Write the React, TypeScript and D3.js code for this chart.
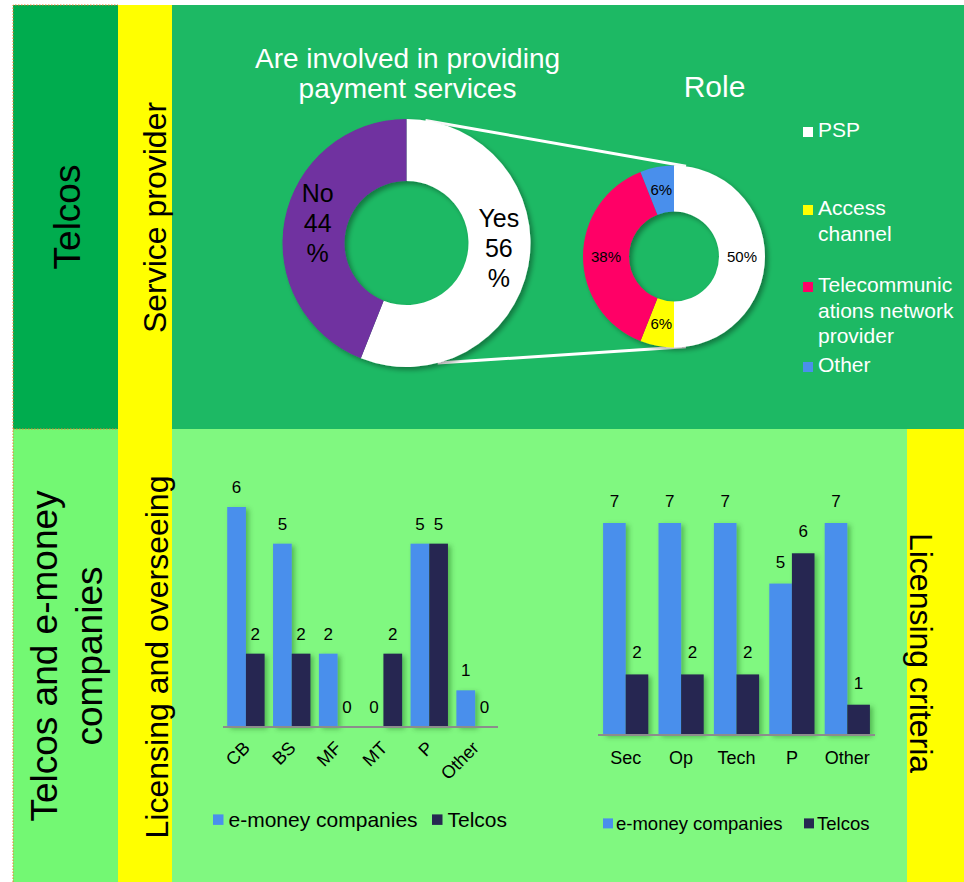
import React from "react";
import * as d3 from "d3";

const involvedLabels = ["Yes", "No"];
const involvedValues = [56, 44];

const roleLabels = ["PSP", "Access channel", "Telecommunications network provider", "Other"];
const roleLegendLines = [["PSP"], ["Access", "channel"], ["Telecommunic", "ations network", "provider"], ["Other"]];
const roleValues = [50, 6, 38, 6];

const seriesNames = ["e-money companies", "Telcos"];

const licensingCategories = ["CB", "BS", "MF", "MT", "P", "Other"];
const licensingEmoney = [6, 5, 2, 0, 5, 1];
const licensingTelcos = [2, 2, 0, 2, 5, 0];

const criteriaCategories = ["Sec", "Op", "Tech", "P", "Other"];
const criteriaEmoney = [7, 7, 7, 5, 7];
const criteriaTelcos = [2, 2, 2, 6, 1];

const FONT = "'Liberation Sans', Arial, Helvetica, sans-serif";
const C = {
  topCol: "#00AC4E",
  topMain: "#1DB964",
  yellow: "#FFFF00",
  botCol: "#73F873",
  botMain: "#80F880",
  white: "#FFFFFF",
  purple: "#7030A0",
  red: "#FF0066",
  blue: "#4A8FEC",
  navy: "#262851",
  axis: "#8C8C8C",
  orange: "#ED7D31",
};

function Donut({ cx, cy, outer, inner, values, colors, labels, fontSize, lineH, shifts }: any) {
  const pie = d3.pie<number>().sort(null).value((d) => d);
  const arcs = pie(values);
  const arc = d3.arc<any>().innerRadius(inner).outerRadius(outer);
  return (
    <g transform={`translate(${cx},${cy})`}>
      <g filter="url(#shadow)">
        {arcs.map((a, i) => (
          <path key={i} d={arc(a) || ""} fill={colors[i]} />
        ))}
      </g>
      {arcs.map((a, i) => {
        const [cx0, cy0] = arc.centroid(a);
        const sh = shifts ? shifts[i] : [0, 0];
        const x = cx0 + sh[0];
        const y = cy0 + sh[1];
        const lines: string[] = labels[i];
        const n = lines.length;
        return (
          <text key={"t" + i} x={x} y={y} textAnchor="middle" fontSize={fontSize} fontFamily={FONT} fill="#000">
            {lines.map((l, j) => (
              <tspan key={j} x={x} y={y + (j - (n - 1) / 2) * lineH + fontSize * 0.36}>
                {l}
              </tspan>
            ))}
          </text>
        );
      })}
    </g>
  );
}

function BarChart({ categories, a, b, x0, x1, baseY, topY, maxV, labelStyle }: any) {
  const x = d3.scaleBand<string>().domain(categories).range([x0, x1]).paddingInner(0).paddingOuter(0);
  const xs = d3.scaleBand<string>().domain(seriesNames).range([0, x.bandwidth()]).paddingInner(0).paddingOuter(0.225);
  const y = d3.scaleLinear().domain([0, maxV]).range([baseY, topY]);
  const series = [a, b];
  const colors = [C.blue, C.navy];
  return (
    <g>
      <g filter="url(#barshadow)">
        {categories.map((c: string, i: number) =>
          series.map((s: number[], k: number) => (
            <rect
              key={c + k}
              x={(x(c) || 0) + (xs(seriesNames[k]) || 0)}
              y={y(s[i])}
              width={xs.bandwidth()}
              height={baseY - y(s[i])}
              fill={colors[k]}
            />
          ))
        )}
      </g>
      <line x1={x0} x2={x1} y1={baseY} y2={baseY} stroke={C.axis} strokeWidth={2} />
      {categories.map((c: string, i: number) =>
        series.map((s: number[], k: number) => (
          <text
            key={"v" + c + k}
            x={(x(c) || 0) + (xs(seriesNames[k]) || 0) + xs.bandwidth() / 2}
            y={y(s[i]) - labelStyle.valueGap}
            textAnchor="middle"
            fontSize={17}
            fontFamily={FONT}
            fill="#000"
          >
            {s[i]}
          </text>
        ))
      )}
      {categories.map((c: string) => {
        const cxp = (x(c) || 0) + x.bandwidth() / 2;
        if (labelStyle.rotate) {
          return (
            <text
              key={"c" + c}
              transform={`translate(${cxp + 5},${baseY + 22}) rotate(-45)`}
              textAnchor="end"
              fontSize={18}
              fontFamily={FONT}
              fill="#000"
            >
              {c}
            </text>
          );
        }
        return (
          <text key={"c" + c} x={cxp} y={baseY + 29} textAnchor="middle" fontSize={18} fontFamily={FONT} fill="#000">
            {c}
          </text>
        );
      })}
    </g>
  );
}

function Legend({ x, y, gap, size, font }: any) {
  const colors = [C.blue, C.navy];
  return (
    <g>
      {seriesNames.map((n, i) => (
        <g key={n}>
          <rect x={x[i]} y={y - font * 0.6} width={size} height={size} fill={colors[i]} />
          <text x={x[i] + size + gap} y={y} fontSize={font} fontFamily={FONT} fill="#000">
            {n}
          </text>
        </g>
      ))}
    </g>
  );
}

export default function App() {
  const W = 964;
  const H = 882;
  const left = 13;
  const col1 = 118;
  const col2 = 172;
  const top = 5;
  const mid = 429;
  const rightYellow = 907;

  const bigC = { x: 406.5, y: 243, r: 124, ri: 62 };
  const smallC = { x: 674, y: 256.5, r: 91, ri: 45 };
  const pt = (c: any, deg: number) => {
    const t = (deg * Math.PI) / 180;
    return [c.x + c.r * Math.sin(t), c.y - c.r * Math.cos(t)];
  };
  const t1 = pt(bigC, 8.8);
  const t2 = pt(smallC, 7.6);
  const b1 = pt(bigC, 165.5);
  const b2 = pt(smallC, 172.5);

  const roleColors = [C.white, C.yellow, C.red, C.blue];
  const roleLegendY = [137, 215, 292, 372];

  return (
    <svg width={W} height={H} style={{ position: "absolute", left: 0, top: 0 }} xmlns="http://www.w3.org/2000/svg">
      <defs>
        <filter id="shadow" x="-20%" y="-20%" width="150%" height="150%">
          <feDropShadow dx="3" dy="3" stdDeviation="2.5" floodColor="#000" floodOpacity="0.35" />
        </filter>
        <filter id="barshadow" x="-20%" y="-20%" width="150%" height="150%">
          <feDropShadow dx="3" dy="2" stdDeviation="2.5" floodColor="#004000" floodOpacity="0.35" />
        </filter>
      </defs>
      <rect x={0} y={0} width={W} height={H} fill="#fff" />
      <rect x={left} y={top} width={col1 - left} height={mid - top} fill={C.topCol} />
      <rect x={col1} y={top} width={col2 - col1} height={mid - top} fill={C.yellow} />
      <rect x={col2} y={top} width={W - col2} height={mid - top} fill={C.topMain} />
      <rect x={left} y={mid} width={col1 - left} height={H - mid} fill={C.botCol} />
      <rect x={col1} y={mid} width={col2 - col1} height={H - mid} fill={C.yellow} />
      <rect x={col2} y={mid} width={rightYellow - col2} height={H - mid} fill={C.botMain} />
      <rect x={rightYellow} y={mid} width={W - rightYellow} height={H - mid} fill={C.yellow} />
      <path
        d={`M${left},${H} L${left},${top} L${col1},${top} M${left},${mid} L${col1},${mid}`}
        fill="none"
        stroke={C.orange}
        strokeWidth={1}
        strokeDasharray="1.5 1.5"
      />

      <text transform={`translate(80,217) rotate(-90)`} textAnchor="middle" fontSize={37} fontFamily={FONT} fill="#000">
        Telcos
      </text>
      <text transform={`translate(166,217.5) rotate(-90)`} textAnchor="middle" fontSize={32} fontFamily={FONT} fill="#000">
        Service provider
      </text>
      <text transform={`translate(57,656) rotate(-90)`} textAnchor="middle" fontSize={37} fontFamily={FONT} fill="#000">
        Telcos and e-money
      </text>
      <text transform={`translate(102,656) rotate(-90)`} textAnchor="middle" fontSize={37} fontFamily={FONT} fill="#000">
        companies
      </text>
      <text transform={`translate(168,657) rotate(-90)`} textAnchor="middle" fontSize={32} fontFamily={FONT} fill="#000">
        Licensing and overseeing
      </text>
      <text transform={`translate(910,653) rotate(90)`} textAnchor="middle" fontSize={32} fontFamily={FONT} fill="#000">
        Licensing criteria
      </text>

      <text x={407.5} y={68} textAnchor="middle" fontSize={28} fontFamily={FONT} fill="#fff">
        Are involved in providing
      </text>
      <text x={407.5} y={98} textAnchor="middle" fontSize={28} fontFamily={FONT} fill="#fff">
        payment services
      </text>
      <text x={714.5} y={97} textAnchor="middle" fontSize={30} fontFamily={FONT} fill="#fff">
        Role
      </text>

      <line x1={t1[0]} y1={t1[1]} x2={t2[0]} y2={t2[1]} stroke="#fff" strokeWidth={3} />
      <line x1={b1[0]} y1={b1[1]} x2={b2[0]} y2={b2[1]} stroke="#fff" strokeWidth={3} />

      <Donut
        cx={bigC.x}
        cy={bigC.y}
        outer={bigC.r}
        inner={bigC.ri}
        values={involvedValues}
        colors={[C.white, C.purple]}
        labels={involvedLabels.map((l, i) => [l, String(involvedValues[i]), "%"])}
        fontSize={25}
        lineH={30}
        shifts={[[1, -12], [2.5, -2.5]]}
      />
      <Donut
        cx={smallC.x}
        cy={smallC.y}
        outer={smallC.r}
        inner={smallC.ri}
        values={roleValues}
        colors={roleColors}
        labels={roleValues.map((v) => [v + "%"])}
        fontSize={15}
        lineH={18}
      />

      {roleLabels.map((l, i) => (
        <g key={l}>
          <rect x={803} y={roleLegendY[i] - 10} width={10} height={10} fill={roleColors[i]} />
          <text x={818} y={roleLegendY[i]} fontSize={21} fontFamily={FONT} fill="#fff">
            {roleLegendLines[i].map((ln, j) => (
              <tspan key={j} x={818} y={roleLegendY[i] + j * 25.5}>
                {ln}
              </tspan>
            ))}
          </text>
        </g>
      ))}

      <BarChart
        categories={licensingCategories}
        a={licensingEmoney}
        b={licensingTelcos}
        x0={223}
        x1={498}
        baseY={727}
        topY={507}
        maxV={6}
        labelStyle={{ rotate: true, valueGap: 14 }}
      />
      <Legend x={[213, 432]} y={827} gap={5} size={10.5} font={21} />

      <BarChart
        categories={criteriaCategories}
        a={criteriaEmoney}
        b={criteriaTelcos}
        x0={598}
        x1={875}
        baseY={735}
        topY={523}
        maxV={7}
        labelStyle={{ rotate: false, valueGap: 16 }}
      />
      <Legend x={[603, 804]} y={829.5} gap={3} size={10} font={18.5} />
    </svg>
  );
}
